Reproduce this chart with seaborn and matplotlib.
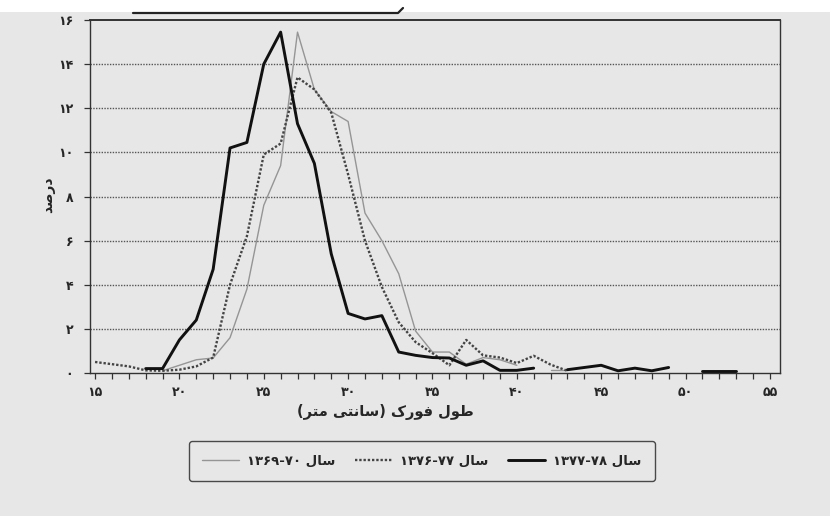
import re
import numpy as np
import pandas as pd
import seaborn as sns
import matplotlib
matplotlib.use('Agg')
import matplotlib.pyplot as plt
from matplotlib.lines import Line2D

# طول فورک (سانتی متر) - کلاس‌های یک سانتی‌متری
lengths = list(range(15, 54))

nan = np.nan
# سال ۱۳۷۷-۷۸ (خط ضخیم)
pct_7778 = [nan, nan, nan, 0.2, 0.2, 1.5, 2.4, 4.7, 10.2, 10.45,
            14.0, 15.45, 11.3, 9.5, 5.4, 2.7, 2.45, 2.6, 0.95, 0.8,
            0.7, 0.68, 0.35, 0.55, 0.12, 0.12, 0.22, nan, 0.15, 0.25,
            0.35, 0.1, 0.22, 0.1, 0.25, nan, 0.1, 0.1, 0.1]
# سال ۱۳۷۶-۷۷ (نقطه چین)
pct_7677 = [0.5, 0.4, 0.3, 0.12, 0.1, 0.15, 0.3, 0.7, 4.0, 6.2,
            9.9, 10.4, 13.4, 12.85, 11.8, 9.0, 6.0, 3.9, 2.3, 1.4,
            0.9, 0.35, 1.5, 0.8, 0.7, 0.45, 0.78, 0.38, 0.1, nan,
            nan, nan, nan, nan, nan, nan, nan, nan, nan]
# سال ۱۳۶۹-۷۰ (خط نازک)
pct_6970 = [nan, nan, nan, nan, 0.1, 0.35, 0.6, 0.68, 1.6, 3.8,
            7.6, 9.4, 15.45, 12.85, 11.85, 11.4, 7.25, 6.0, 4.5, 1.9,
            0.95, 0.95, 0.4, 0.7, 0.6, 0.35, nan, 0.12, 0.12, nan,
            nan, nan, nan, nan, nan, nan, nan, nan, nan]

series_names = ['1369-70', '1376-77', '1377-78']
legend_labels = ['سال ۱۳۶۹-۷۰', 'سال ۱۳۷۶-۷۷', 'سال ۱۳۷۷-۷۸']
x_label = 'طول فورک (سانتی متر)'
y_label = 'درصد'
fa_digits = '۰۱۲۳۴۵۶۷۸۹'

# شکل‌دهی ساده حروف فارسی (matplotlib اتصال حروف و راست‌به‌چپ را انجام نمی‌دهد)
FORMS = {
    'ا': ('\uFE8D', '\uFE8E', None, None),
    'د': ('\uFEA9', '\uFEAA', None, None),
    'ر': ('\uFEAD', '\uFEAE', None, None),
    'و': ('\uFEED', '\uFEEE', None, None),
    'ص': ('\uFEB9', '\uFEBA', '\uFEBB', '\uFEBC'),
    'ط': ('\uFEC1', '\uFEC2', '\uFEC3', '\uFEC4'),
    'ل': ('\uFEDD', '\uFEDE', '\uFEDF', '\uFEE0'),
    'ف': ('\uFED1', '\uFED2', '\uFED3', '\uFED4'),
    'ک': ('\uFB8E', '\uFB8F', '\uFB90', '\uFB91'),
    'س': ('\uFEB1', '\uFEB2', '\uFEB3', '\uFEB4'),
    'ن': ('\uFEE5', '\uFEE6', '\uFEE7', '\uFEE8'),
    'ت': ('\uFE95', '\uFE96', '\uFE97', '\uFE98'),
    'ی': ('\uFBFC', '\uFBFD', '\uFBFE', '\uFBFF'),
    'م': ('\uFEE1', '\uFEE2', '\uFEE3', '\uFEE4'),
}


def shape(text):
    out = []
    i = 0
    while i < len(text):
        c = text[i]
        if c not in FORMS:
            out.append(c)
            i += 1
            continue
        prev = text[i - 1] if i > 0 else ''
        joins_prev = prev in FORMS and FORMS[prev][2] is not None
        nxt = text[i + 1] if i + 1 < len(text) else ''
        if c == 'ل' and nxt == 'ا':
            out.append('\uFEFC' if joins_prev else '\uFEFB')
            i += 2
            continue
        joins_next = FORMS[c][2] is not None and nxt in FORMS
        iso, fin, ini, med = FORMS[c]
        if joins_prev and joins_next:
            out.append(med)
        elif joins_prev:
            out.append(fin)
        elif joins_next:
            out.append(ini)
        else:
            out.append(iso)
        i += 1
    return ''.join(out)


def fa(text):
    shaped = shape(text)
    runs = re.findall(r'[۰-۹\-]+|[^۰-۹\-]+', shaped)
    mirror = str.maketrans('()', ')(')
    vis = []
    for r in reversed(runs):
        if re.match(r'[۰-۹]', r):
            vis.append(r)
        else:
            vis.append(r[::-1].translate(mirror))
    return ''.join(vis)


def fa_num(n):
    return ''.join(fa_digits[int(d)] for d in str(n))


# جدول بلند برای seaborn، با قطعه‌بندی در جاهای خالی
rows = []
for name, vals in zip(series_names, [pct_6970, pct_7677, pct_7778]):
    seg = 0
    prev_nan = True
    for x, v in zip(lengths, vals):
        if np.isnan(v):
            prev_nan = True
            continue
        if prev_nan:
            seg += 1
        prev_nan = False
        rows.append({'length': x, 'pct': v, 'series': name, 'seg': seg})
df = pd.DataFrame(rows)

bg = '#e7e7e7'
sns.set_style('ticks')
plt.rcParams['font.family'] = ['DejaVu Sans']

colors = {'1369-70': '#959595', '1376-77': '#444444', '1377-78': '#111111'}
widths = {'1369-70': 1.0, '1376-77': 1.7, '1377-78': 2.1}
dashes = {'1369-70': '', '1376-77': (1, 0.8), '1377-78': ''}

fig = plt.figure(figsize=(8.3, 5.16), dpi=100, facecolor=bg)
ax = fig.add_axes([90 / 830, 1 - 373 / 516, 690 / 830, 353 / 516])
ax.set_facecolor(bg)

for y in range(2, 16, 2):
    ax.axhline(y, color='#555555', lw=1.0, ls=(0, (1, 1)), zorder=1)

sns.lineplot(data=df, x='length', y='pct', hue='series', size='series',
             style='series', units='seg', estimator=None,
             palette=colors, sizes=widths, dashes=dashes,
             legend=False, ax=ax, zorder=3)

ax.set_xlim(14.7, 55.6)
ax.set_ylim(0, 16)
ax.set_xticks(range(15, 56, 5))
ax.set_xticks(range(15, 56), minor=True)
ax.set_xticklabels([fa_num(v) for v in range(15, 56, 5)], fontweight='bold', fontsize=9)
ax.set_yticks(range(0, 17, 2))
ax.set_yticklabels([fa_num(v) for v in range(0, 17, 2)], fontweight='bold', fontsize=9)
ax.tick_params(axis='x', which='both', direction='out', length=4, width=0.9,
               color='#333333', pad=5)
ax.tick_params(axis='y', direction='out', length=4, width=0.9, color='#333333', pad=8)
ax.set_xlabel('')
ax.set_ylabel('')
for s in ax.spines.values():
    s.set_color('#333333')
    s.set_linewidth(1.0)
ax.spines['top'].set_linewidth(1.4)

fig.text(385 / 830, 1 - 412 / 516, fa(x_label), ha='center', va='center',
         fontsize=10.5, fontweight='bold')
fig.text(48 / 830, 1 - 195 / 516, fa(y_label), ha='center', va='center',
         rotation=90, fontsize=10, fontweight='bold')

handles = [Line2D([], [], color=colors[n], lw=widths[n],
                  ls=(0, (1, 0.8)) if n == '1376-77' else '-') for n in series_names]
leg = fig.legend(handles, [fa(t) for t in legend_labels], loc='center',
                 bbox_to_anchor=(422 / 830, 1 - 461 / 516), ncol=3,
                 frameon=True, fancybox=True, fontsize=9.5, handlelength=2.8,
                 columnspacing=1.5, handletextpad=0.6, borderpad=1.0)
for t in leg.get_texts():
    t.set_fontweight('bold')
leg.get_frame().set_edgecolor('#222222')
leg.get_frame().set_facecolor(bg)
leg.get_frame().set_linewidth(1.0)

# لبهٔ بالای اسکن
fig.patches.append(plt.Rectangle((0, 1 - 12 / 516), 1, 12 / 516, transform=fig.transFigure,
                                 facecolor='white', edgecolor='none', zorder=0))
fig.lines.append(Line2D([133 / 830, 398 / 830, 403 / 830],
                        [1 - 13 / 516, 1 - 13 / 516, 1 - 8 / 516],
                        transform=fig.transFigure, color='#222222', lw=1.6))

fig.savefig('out.png', dpi=100, facecolor=bg)
